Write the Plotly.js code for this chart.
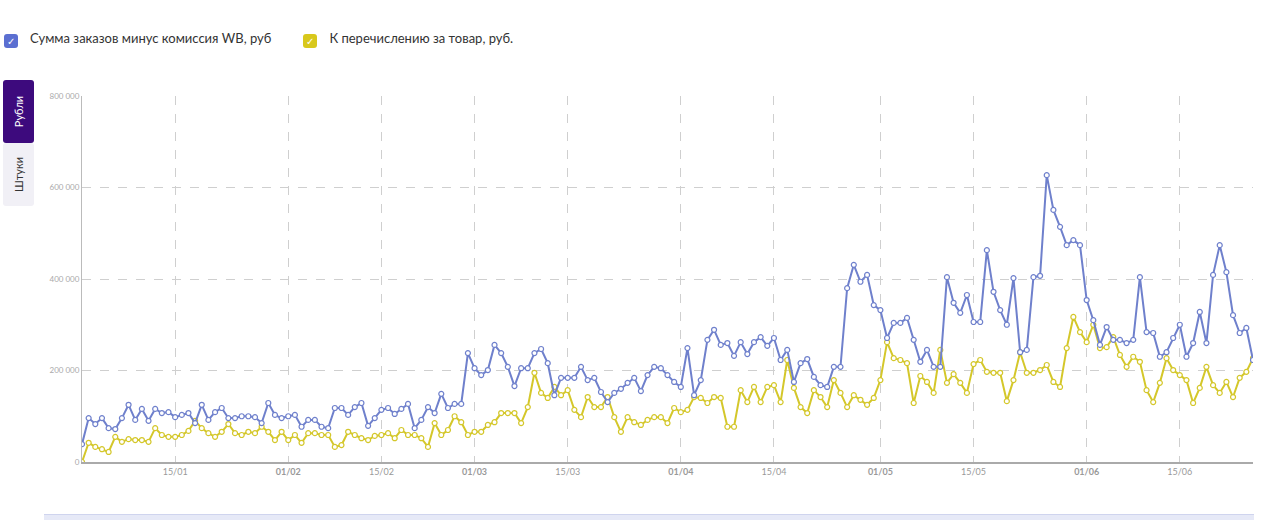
<!DOCTYPE html>
<html>
<head>
<meta charset="utf-8">
<script src="https://cdn.plot.ly/plotly-3.0.1.min.js"></script>
<style>
  body { margin: 0; width: 1278px; height: 520px; background: #fff; font-family: Lato, "Open Sans", sans-serif; overflow: hidden; position: relative; }
  #plot_area { position: absolute; left: 0; top: 0; width: 1278px; height: 520px; }
  .legend { position: absolute; top: 30px; left: 4px; font-size: 13px; color: #333; display: flex; gap: 32px; }
  .legend span.box { display: inline-block; width: 14px; height: 14px; border-radius: 3px; vertical-align: -2px; margin-right: 12px; color: #fff; font-size: 10px; text-align: center; line-height: 14px; }
  .tabs { position: absolute; left: 3px; top: 80px; width: 31px; }
  .tab { height: 63px; border-radius: 3px; font-size: 11px; display: flex; align-items: center; justify-content: center; }
  .tab div { transform: rotate(-90deg); white-space: nowrap; }
  .bottom { position: absolute; left: 44px; top: 514px; width: 1210px; height: 8px; background: #e6e9f7; border-top: 1px solid #cfd4ee; }
</style>
</head>
<body>
<div id="plot_area"></div>
<div class="legend">
  <div><span class="box" style="background:#5b6fd1">&#10003;</span>Сумма заказов минус комиссия WB, руб</div>
  <div><span class="box" style="background:#d8c81c">&#10003;</span>К перечислению за товар, руб.</div>
</div>
<div class="tabs">
  <div class="tab" style="background:#3d0a7d;color:#fff"><div>Рубли</div></div>
  <div class="tab" style="background:#f1f0f6;color:#333"><div>Штуки</div></div>
</div>
<div class="bottom"></div>
<script>
// Daily values, thousands of rubles, starting 2023-01-01
const ordersMinusFee = [
  39, 96, 83, 96, 74, 72, 96, 125, 92, 116, 90, 116, 107, 109, 98, 103, 107, 85, 125, 92,
  109, 118, 96, 96, 100, 100, 98, 85, 129, 103,
  96, 100, 103, 77, 92, 92, 77, 74, 118, 118, 103, 120, 129, 79, 96, 114, 118, 105, 116, 127,
  74, 92, 120, 107, 149, 118, 127, 127, 238, 205,
  190, 201, 256, 238, 208, 166, 205, 205, 238, 247, 216, 146, 184, 184, 184, 208, 179, 184, 153, 131,
  151, 160, 173, 184, 155, 190, 208, 205, 190, 175, 164, 249,
  146, 179, 267, 289, 256, 260, 232, 262, 236, 262, 273, 254, 271, 223, 245, 175, 216, 225, 186, 168,
  164, 208, 208, 380, 431, 394, 409, 343, 332, 271,
  304, 304, 315, 267, 219, 245, 208, 208, 404, 348, 326, 365, 306, 306, 463, 372, 332, 300, 402, 240,
  245, 404, 407, 627, 551,
  514, 474, 485, 474, 354, 310, 256, 295, 267, 267, 260, 267, 404, 284, 282, 230, 240, 271, 300, 230,
  260, 328, 260, 409, 474, 415, 321, 282, 293, 223
];
const toTransfer = [
  0, 42, 33, 28, 22, 55, 44, 50, 48, 48, 44, 74, 59, 55, 55, 59, 68, 90, 74, 63,
  55, 66, 83, 63, 59, 66, 63, 77, 66, 48,
  66, 48, 59, 42, 63, 63, 59, 59, 33, 37, 66, 59, 52, 48, 57, 59, 63, 52, 70, 59,
  59, 52, 33, 85, 59, 70, 100, 87, 59, 66,
  66, 81, 87, 107, 107, 107, 85, 120, 195, 151, 140, 164, 146, 157, 114, 98, 142, 120, 120, 142,
  98, 66, 98, 87, 81, 92, 98, 98, 85, 118, 109, 114,
  142, 140, 129, 142, 140, 77, 77, 157, 131, 164, 131, 164, 168, 131, 223, 162, 120, 107, 157, 142,
  120, 179, 151, 120, 146, 136, 125, 140, 179, 262,
  227, 223, 216, 129, 188, 175, 151, 245, 173, 192, 173, 151, 214, 223, 197, 195, 195, 133, 179, 240,
  195, 195, 201, 212, 175,
  164, 249, 317, 284, 262, 300, 249, 251, 273, 234, 208, 230, 219, 157, 131, 173, 227, 201, 190, 179,
  129, 162, 208, 168, 151, 175, 142, 184, 197, 227
];
const tickDates = ['2023-01-15', '2023-02-01', '2023-02-15', '2023-03-01', '2023-03-15', '2023-04-01',
  '2023-04-15', '2023-05-01', '2023-05-15', '2023-06-01', '2023-06-15'];
const tickLabels = ['15/01', '<b>01/02</b>', '15/02', '<b>01/03</b>', '15/03', '<b>01/04</b>',
  '15/04', '<b>01/05</b>', '15/05', '<b>01/06</b>', '15/06'];
const yTicks = [0, 200000, 400000, 600000, 800000];
const yLabels = ['0', '200 000', '400 000', '600 000', '800 000'];

const start = new Date(Date.UTC(2023, 0, 1));
const dates = ordersMinusFee.map((_, i) => new Date(start.getTime() + i * 86400000).toISOString().slice(0, 10));

function series(values, color) {
  return {
    x: dates,
    y: values.map(v => v * 1000),
    type: 'scatter',
    mode: 'lines+markers',
    line: { color: color, width: 2 },
    marker: { size: 5, color: '#fff', line: { color: color, width: 1.2 } },
    showlegend: false,
    hoverinfo: 'skip'
  };
}

const layout = {
  margin: { l: 82, r: 25, t: 96, b: 58 },
  paper_bgcolor: '#fff',
  plot_bgcolor: '#fff',
  font: { family: 'Lato, sans-serif', color: '#999' },
  xaxis: {
    type: 'date',
    range: ['2023-01-01', dates[dates.length - 1]],
    tickvals: tickDates,
    ticktext: tickLabels,
    tickfont: { size: 9, color: '#999' },
    showgrid: true,
    gridcolor: '#cfcfcf',
    griddash: 'dash',
    showline: true,
    linecolor: '#aaa',
    linewidth: 2,
    zeroline: false,
    ticks: ''
  },
  yaxis: {
    range: [0, 800000],
    tickvals: yTicks,
    ticktext: yLabels,
    tickfont: { size: 8, color: '#aaa' },
    showgrid: true,
    gridcolor: '#cfcfcf',
    griddash: 'dash',
    showline: true,
    linecolor: '#bbb',
    zeroline: false,
    ticks: ''
  }
};

Plotly.newPlot('plot_area', [series(toTransfer, '#d4c72a'), series(ordersMinusFee, '#6f80cc')], layout, { staticPlot: true });
</script>
</body>
</html>
